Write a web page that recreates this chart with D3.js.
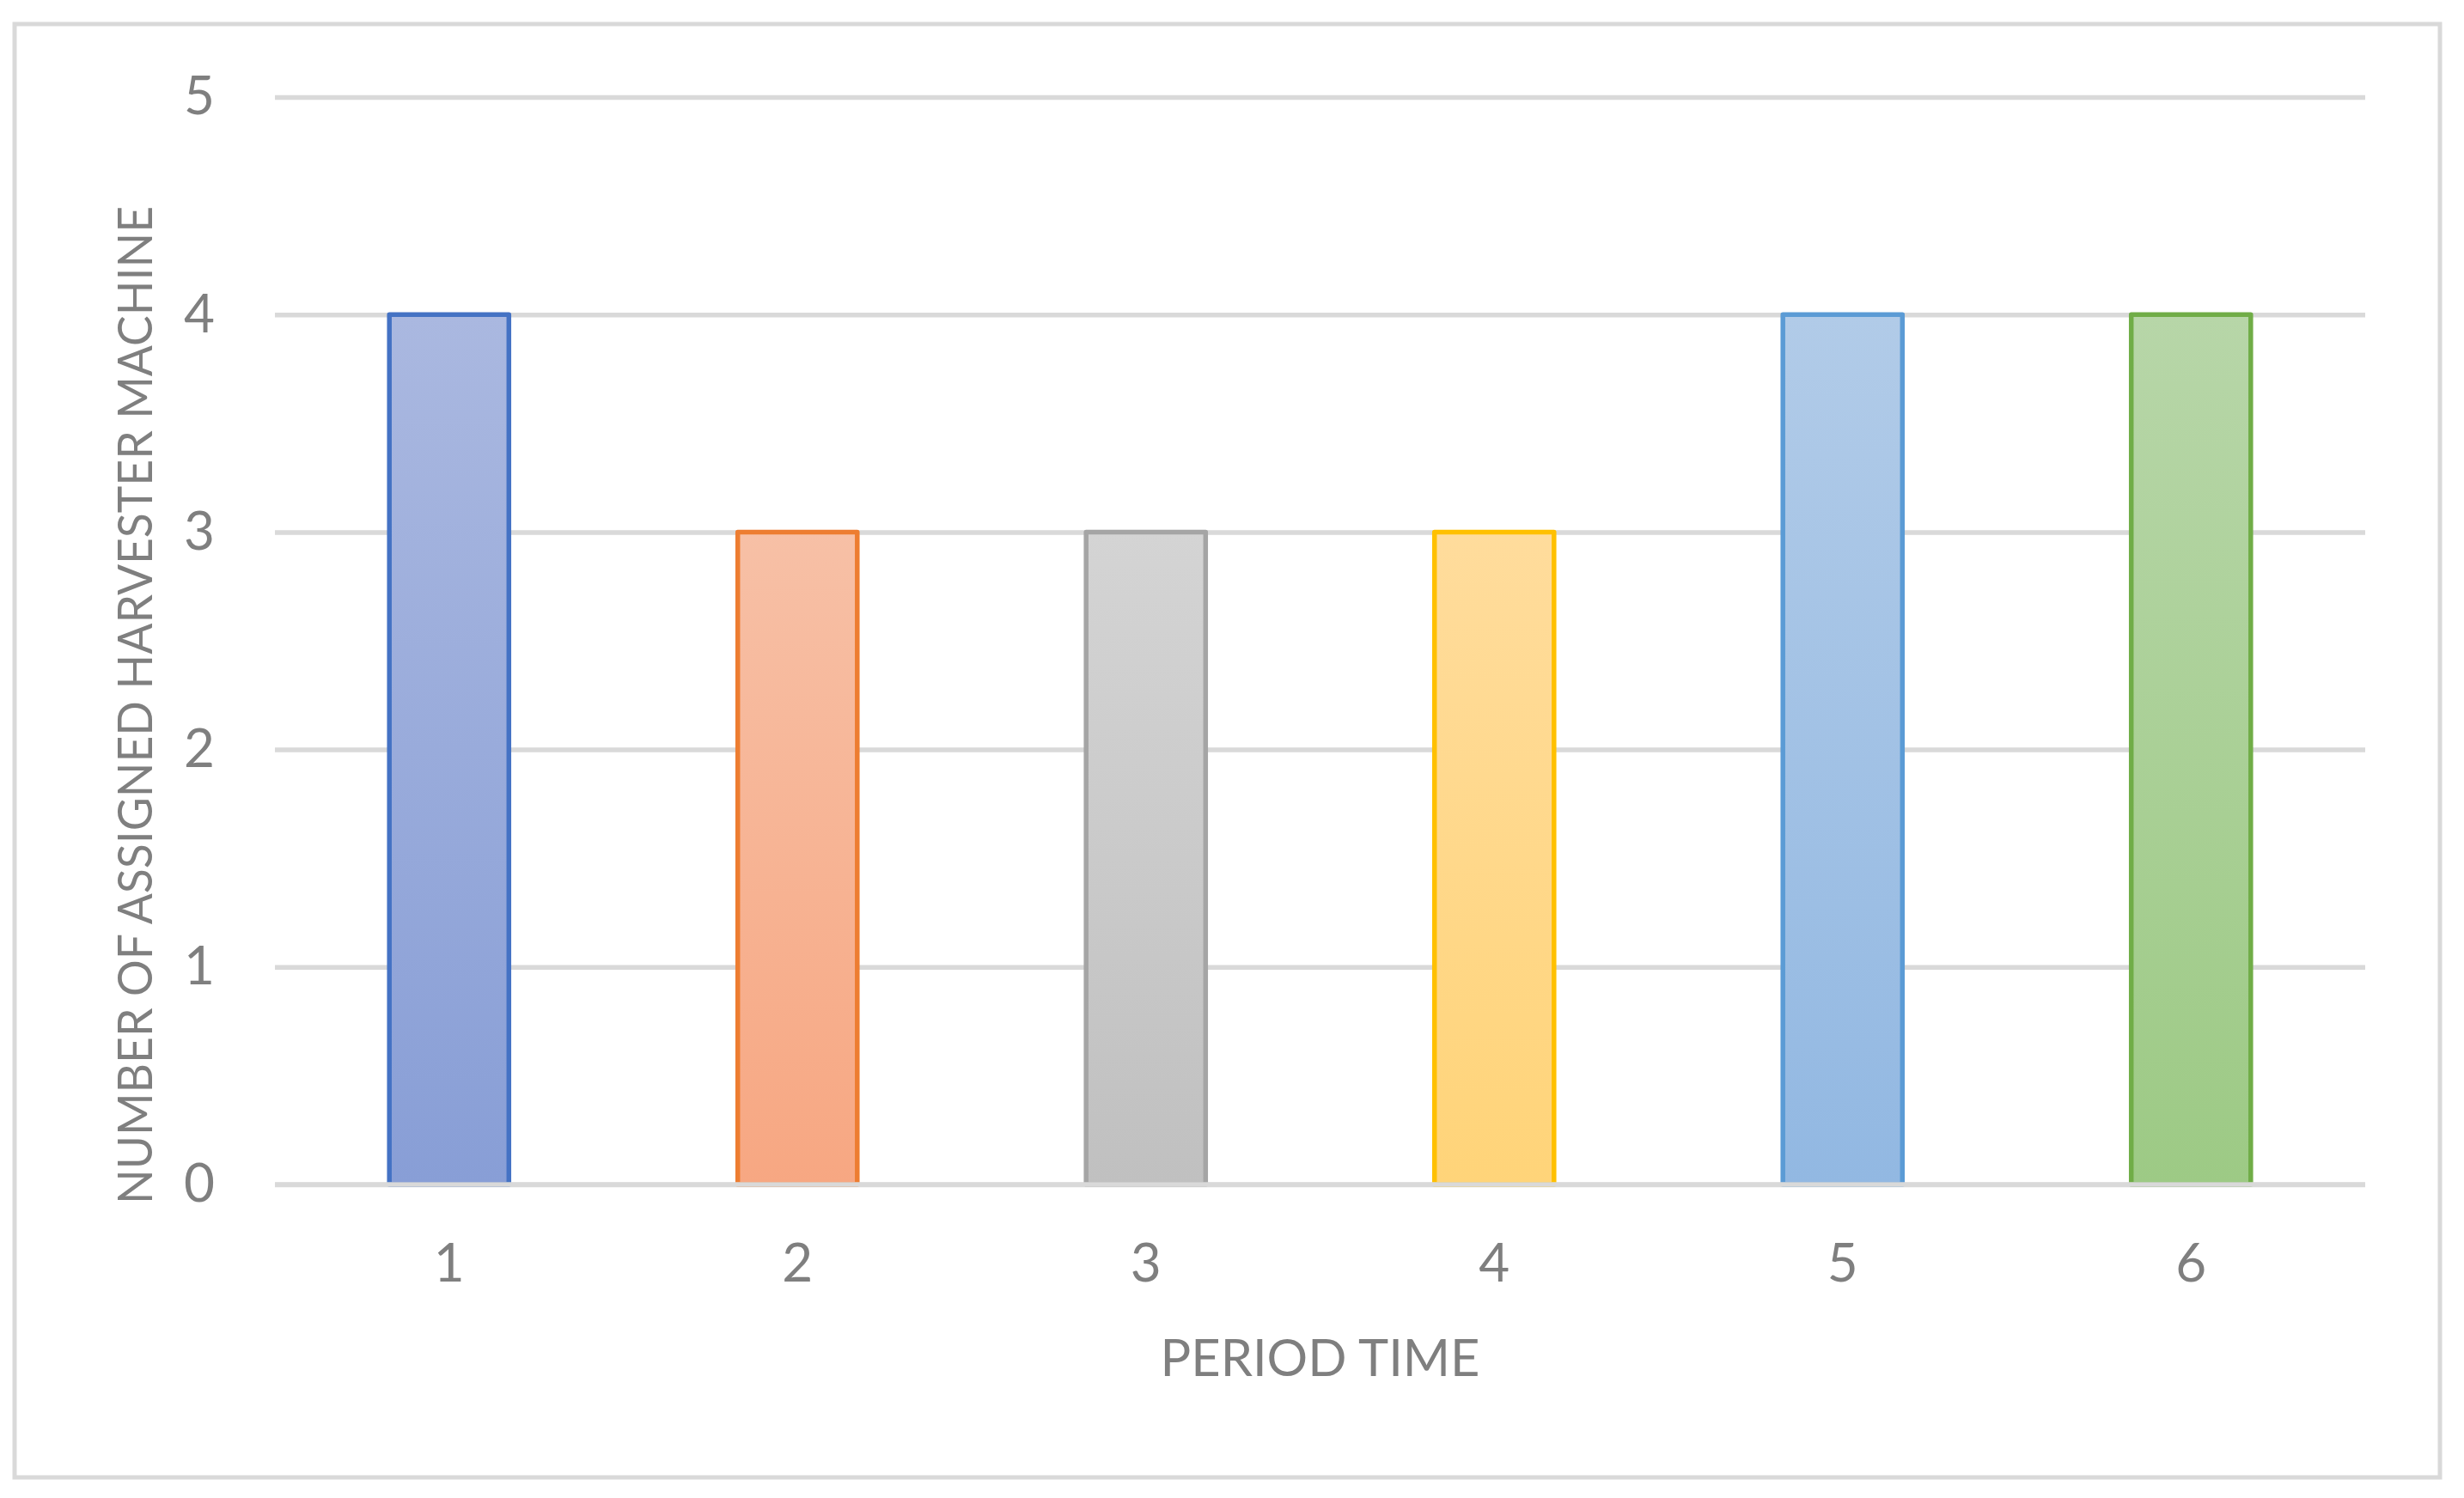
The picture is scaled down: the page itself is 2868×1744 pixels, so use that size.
<!DOCTYPE html>
<html>
<head>
<meta charset="utf-8">
<script src="https://cdn.jsdelivr.net/npm/d3@7"></script>
<style>
  html, body { margin: 0; padding: 0; background: #fff; }
  text { font-family: Lato, "Open Sans", sans-serif; fill: #7f7f7f; }
</style>
</head>
<body>
<svg id="chart"></svg>
<script>
// chart data
const periods   = ['1', '2', '3', '4', '5', '6'];
const machines  = [4, 3, 3, 3, 4, 4];
const yTicks    = [0, 1, 2, 3, 4, 5];
const strokes   = ['#4472c4', '#ed7d31', '#a5a5a5', '#ffc000', '#5b9bd5', '#70ad47'];
const topFills  = ['#aab8e0', '#f7c0a6', '#d4d4d4', '#ffdc9c', '#b1cbe8', '#b7d6a8'];
const baseFills = ['#889ed6', '#f7a782', '#c0c0c0', '#ffd479', '#92b8e2', '#9dca85'];
const xTitle    = 'PERIOD TIME';
const yTitle    = 'NUMBER OF ASSIGNED HARVESTER MACHINE';

const width  = 2868;
const height = 1744;
const margin = { top: 113, right: 115, bottom: 365, left: 320 };
const plotW  = width - margin.left - margin.right;
const plotH  = height - margin.top - margin.bottom;
const grid   = '#d9d9d9';
const font   = 62;

const svg = d3.select('#chart')
    .attr('width', width)
    .attr('height', height);

// outer chart frame
svg.append('rect')
    .attr('x', 17)
    .attr('y', 28)
    .attr('width', 2823)
    .attr('height', 1692)
    .attr('fill', '#fff')
    .attr('stroke', grid)
    .attr('stroke-width', 5);

// bar gradients
const defs = svg.append('defs');
periods.forEach((p, i) => {
  const g = defs.append('linearGradient')
      .attr('id', `grad${i}`)
      .attr('x1', 0).attr('y1', 0)
      .attr('x2', 0).attr('y2', 1);
  g.append('stop').attr('offset', 0).attr('stop-color', topFills[i]);
  g.append('stop').attr('offset', 1).attr('stop-color', baseFills[i]);
});

const x = d3.scaleBand()
    .domain(periods)
    .range([0, plotW])
    .paddingInner(0.657)
    .paddingOuter(0.3285);

const y = d3.scaleLinear()
    .domain([0, 5])
    .range([plotH, 0]);

const plot = svg.append('g')
    .attr('transform', `translate(${margin.left}, ${margin.top})`);

// gridlines and y labels
const yAxis = plot.append('g')
    .call(d3.axisLeft(y)
      .tickValues(yTicks)
      .tickFormat(d3.format('d'))
      .tickSize(-plotW)
      .tickPadding(70));
yAxis.select('.domain').remove();
yAxis.selectAll('line')
    .attr('stroke', grid)
    .attr('stroke-width', 5.5);
yAxis.selectAll('text')
    .attr('fill', '#7f7f7f')
    .style('font-size', `${font}px`)
    .style('font-family', 'Lato, "Open Sans", sans-serif');

// bars
plot.append('g')
  .selectAll('rect')
    .data(machines)
  .enter()
  .append('rect')
    .attr('x', (d, i) => x(periods[i]))
    .attr('y', (d) => y(d))
    .attr('width', x.bandwidth())
    .attr('height', (d) => y(0) - y(d))
    .attr('fill', (d, i) => `url(#grad${i})`)
    .attr('stroke', (d, i) => strokes[i])
    .attr('stroke-width', 5.5)
    .attr('stroke-linejoin', 'round');

// zero line over the bar bases
plot.append('line')
    .attr('x1', 0)
    .attr('x2', plotW)
    .attr('y1', y(0))
    .attr('y2', y(0))
    .attr('stroke', grid)
    .attr('stroke-width', 5.5);

// x labels
const xAxis = plot.append('g')
    .attr('transform', `translate(0, ${plotH})`)
    .call(d3.axisBottom(x).tickSize(0).tickPadding(69));
xAxis.select('.domain').remove();
xAxis.selectAll('text')
    .attr('fill', '#7f7f7f')
    .style('font-size', `${font}px`)
    .style('font-family', 'Lato, "Open Sans", sans-serif');

// axis titles
svg.append('text')
    .attr('x', margin.left + plotW / 2)
    .attr('y', 1602)
    .attr('text-anchor', 'middle')
    .attr('textLength', 372)
    .attr('lengthAdjust', 'spacingAndGlyphs')
    .style('font-size', '60px')
    .text(xTitle);

svg.append('text')
    .attr('transform', 'translate(177, 821) rotate(-90)')
    .attr('text-anchor', 'middle')
    .attr('textLength', 1162)
    .attr('lengthAdjust', 'spacingAndGlyphs')
    .style('font-size', '56px')
    .text(yTitle);
</script>
</body>
</html>
